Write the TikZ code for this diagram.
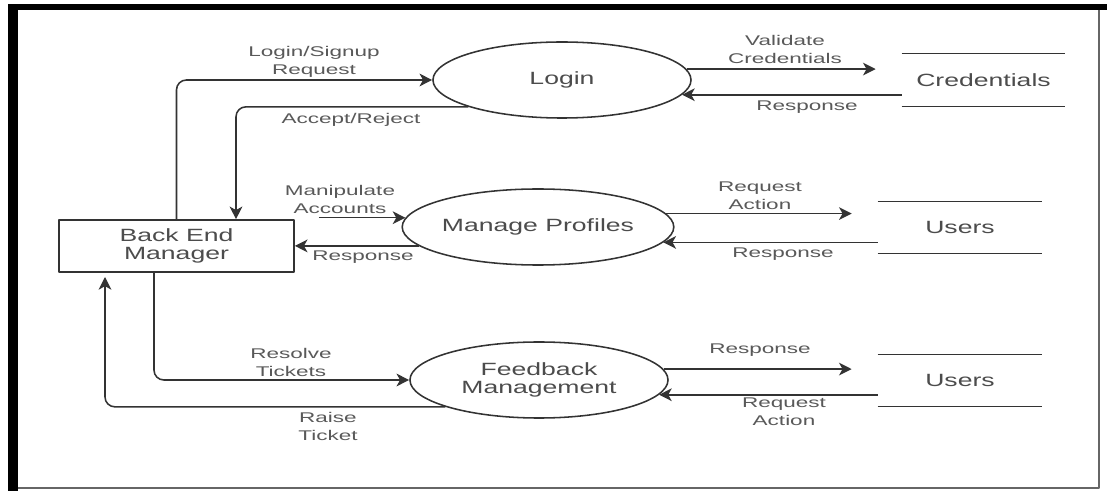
\documentclass[tikz,border=0pt]{standalone}
\usepackage{fontspec}
\setmainfont{Liberation Sans}
\newfontfamily\lblfont[FakeStretch=1.6]{Liberation Sans}
\newfontfamily\boxfont[FakeStretch=1.5]{Liberation Sans}
\usetikzlibrary{arrows.meta,shapes.geometric,calc}
\begin{document}
\begin{tikzpicture}[x=0.025cm, y=-0.025cm, line join=round, >={Stealth[length=9pt,width=9pt,inset=2.5pt]},
	wire/.style={draw=black!80, line width=1.1pt},
	flow/.style={wire, ->, rounded corners=7pt},
	tostore/.style={flow, shorten >=0.65cm},
	process/.style={ellipse, wire, inner sep=0pt, minimum width=6.45cm, minimum height=1.9cm, text=black!70, align=center, font=\boxfont\fontsize{12.6}{12.8}\selectfont},
	entity/.style={rectangle, wire, inner sep=0pt, minimum width=5.875cm, minimum height=1.3cm, text=black!70, align=center, font=\boxfont\fontsize{12.6}{12.8}\selectfont},
	store/.style={inner sep=0pt, minimum width=4.1cm, minimum height=1.3cm, text=black!70, font=\boxfont\fontsize{12.6}{12.8}\selectfont},
	lbl/.style={inner sep=0pt, text=black!65, align=center, font=\lblfont\fontsize{10}{12.8}\selectfont}]
	\useasboundingbox[fill=white] (0,0) rectangle (1107,491);
	%Khung ngoài
	\fill[black] (8,4) rectangle (1107,10);
	\fill[black] (8,4) rectangle (18,491);
	\draw[black!60, line width=0.8pt] (1099,10) -- (1099,488) -- (18,488);
	%Tác nhân và tiến trình
	\node[entity] (bem) at (176.5,246) {Back End\\Manager};
	\node[process] (login) at (562,80) {Login};
	\node[process] (mp) at (538,227) {Manage Profiles};
	\node[process] (fm) at (539,380) {Feedback\\Management};
	%Kho dữ liệu
	\node[store, minimum width=4.075cm] (cred) at (983.5,80) {Credentials};
	\node[store, minimum height=1.275cm] (usrA) at (960,227.5) {Users};
	\node[store, minimum height=1.275cm] (usrB) at (960,380.5) {Users};
	\foreach \s in {cred,usrA,usrB}
	\draw[wire] (\s.north west)--(\s.north east) (\s.south west)--(\s.south east);
	%Luồng dữ liệu bên trái
	\draw[flow] (bem.north) |- (login.west);
	\draw[flow] (login.196.4) -| ($(bem.north)+(59.5,0)$);
	\draw[flow, shorten <=0.6cm] (bem.east |- mp.176.8) -- (mp.176.8);
	\draw[flow] (mp.189.1) -- (bem.east |- mp.189.1);
	\draw[flow] ($(bem.south)+(-22.5,0)$) |- (fm.west);
	\draw[flow, shorten >=3pt] (fm.196.6) -| ($(bem.south)+(-71.5,0)$);
	%Luồng dữ liệu bên phải
	\draw[tostore] (login.5.6) -- (login.5.6 -| cred.west);
	\draw[flow] (cred.west |- login.353.9) -- (login.353.9);
	\draw[tostore] (mp.6.7) -- (mp.6.7 -| usrA.west);
	\draw[flow] (usrA.west |- mp.353.8) -- (mp.353.8);
	\draw[tostore] (fm.5.6) -- (fm.5.6 -| usrB.west);
	\draw[flow] (usrB.west |- fm.353.3) -- (fm.353.3);
	%Nhãn
	\node[lbl] (tLogReq) at (314,62) {Login/Signup\\Request};
	\node[lbl] (tAccRej) at (351,120) {Accept/Reject};
	\node[lbl] (tManAcc) at (340,199) {Manipulate\\Accounts};
	\node[lbl] (tRespA) at (363,257) {Response};
	\node[lbl] (tResTic) at (291,362) {Resolve\\Tickets};
	\node[lbl] (tRaiTic) at (328,426) {Raise\\Ticket};
	\node[lbl] (tValCre) at (785,49) {Validate\\Credentials};
	\node[lbl] (tRespB) at (807,107) {Response};
	\node[lbl] (tReqActA) at (760,196) {Request\\Action};
	\node[lbl] (tRespC) at (783,254) {Response};
	\node[lbl] (tRespD) at (760,350) {Response};
	\node[lbl] (tReqActB) at (784,412) {Request\\Action};
\end{tikzpicture}
\end{document}
